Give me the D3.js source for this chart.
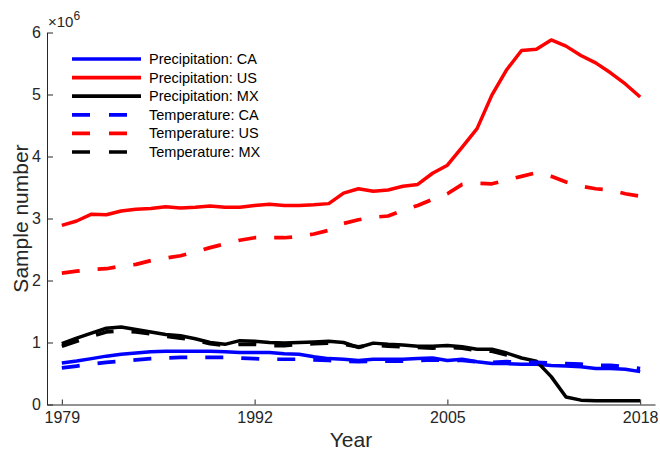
<!DOCTYPE html>
<html>
<head>
<meta charset="utf-8">
<script src="https://cdn.jsdelivr.net/npm/d3@7/dist/d3.min.js"></script>
<style>
  html, body { margin: 0; padding: 0; background: #fff; }
  svg { display: block; font-family: "Liberation Sans", Arial, Helvetica, sans-serif; }
</style>
</head>
<body>
<svg id="chart" width="660" height="450"></svg>
<script>
// ---- data (values in millions) ----
const years = d3.range(1979, 2019);
const precipCA = [0.67,0.70,0.74,0.78,0.81,0.83,0.85,0.86,0.86,0.86,0.86,0.85,0.84,0.84,0.84,0.82,0.81,0.77,0.74,0.73,0.71,0.73,0.73,0.73,0.74,0.75,0.71,0.73,0.69,0.66,0.66,0.65,0.65,0.63,0.62,0.61,0.58,0.58,0.57,0.53];
const precipUS = [2.89,2.96,3.07,3.06,3.12,3.15,3.16,3.19,3.17,3.18,3.20,3.18,3.18,3.21,3.23,3.21,3.21,3.22,3.24,3.41,3.48,3.44,3.46,3.52,3.55,3.73,3.86,4.15,4.45,4.99,5.40,5.71,5.73,5.88,5.78,5.63,5.51,5.35,5.17,4.96];
const precipMX = [0.98,1.07,1.15,1.23,1.25,1.21,1.17,1.13,1.11,1.06,1.00,0.97,1.03,1.02,1.00,0.99,1.00,1.01,1.02,1.00,0.92,0.99,0.97,0.96,0.94,0.94,0.95,0.93,0.89,0.89,0.83,0.75,0.70,0.45,0.12,0.07,0.06,0.06,0.06,0.06];
const tempCA = [0.59,0.62,0.65,0.68,0.70,0.72,0.74,0.75,0.76,0.76,0.76,0.76,0.75,0.74,0.73,0.73,0.73,0.72,0.71,0.70,0.69,0.70,0.70,0.70,0.71,0.72,0.71,0.71,0.69,0.68,0.69,0.68,0.68,0.67,0.66,0.65,0.63,0.63,0.61,0.58];
const tempUS = [2.12,2.15,2.18,2.19,2.23,2.26,2.32,2.36,2.40,2.46,2.53,2.59,2.65,2.69,2.69,2.69,2.71,2.75,2.81,2.92,2.98,3.02,3.04,3.13,3.21,3.31,3.40,3.55,3.57,3.56,3.62,3.68,3.74,3.68,3.59,3.52,3.48,3.46,3.40,3.36];
const tempMX = [0.94,1.02,1.10,1.17,1.19,1.17,1.14,1.10,1.07,1.04,0.98,0.95,0.97,0.97,0.95,0.95,0.97,0.98,0.99,0.97,0.93,0.96,0.94,0.93,0.92,0.91,0.92,0.91,0.87,0.86,0.80,0.74];

const seriesNames = ["Precipitation: CA","Precipitation: US","Precipitation: MX","Temperature: CA","Temperature: US","Temperature: MX"];
const seriesValues = [precipCA, precipUS, precipMX, tempCA, tempUS, tempMX];
const seriesColors = ["#0000ff","#ff0000","#000000","#0000ff","#ff0000","#000000"];
const seriesDashed = [false,false,false,true,true,true];

const xTicks = [1979, 1992, 2005, 2018];
const yTicks = [0,1,2,3,4,5,6];

// ---- chart ----
const svg = d3.select("#chart");
const x = d3.scaleLinear().domain([1978, 2019]).range([47, 655]);
const y = d3.scaleLinear().domain([0, 6]).range([404.5, 32.5]);

const axisColor = "#262626";

// lines
const line = d3.line().x((d) => x(d.year)).y((d) => y(d.v));
seriesValues.forEach((vals, i) => {
  const pts = vals.map((v, j) => ({ year: years[j], v }));
  svg.append("path")
    .datum(pts)
    .attr("d", line)
    .attr("fill", "none")
    .attr("stroke", seriesColors[i])
    .attr("stroke-width", seriesDashed[i] ? 3.7 : 3.5)
    .attr("stroke-linejoin", "round")
    .attr("stroke-dasharray", seriesDashed[i] ? "18,18" : null);
});

// axes
const yAxis = d3.axisLeft(y).tickValues(yTicks).tickFormat(d3.format("d"))
  .tickSizeInner(-6).tickSizeOuter(0).tickPadding(6);
const gy = svg.append("g").attr("transform", `translate(${x(1978)},0)`).call(yAxis);

const xAxis = d3.axisBottom(x).tickValues(xTicks).tickFormat(d3.format("d"))
  .tickSizeInner(-5).tickSizeOuter(0).tickPadding(7);
const gx = svg.append("g").attr("transform", `translate(0,${y(0)})`).call(xAxis);

[gx, gy].forEach(g => {
  g.select(".domain").attr("stroke", axisColor).attr("stroke-width", 1);
  g.selectAll(".tick line").attr("stroke", axisColor).attr("stroke-width", 1);
  g.selectAll(".tick text").attr("fill", axisColor).style("font-size", "16px")
    .style("font-family", "'Liberation Sans', Arial, sans-serif");
});

// exponent label
const expT = svg.append("text").attr("x", 48).attr("y", 27)
  .attr("fill", axisColor).style("font-size", "15px");
expT.append("tspan").text("\u00d710");
expT.append("tspan").attr("dy", -7).style("font-size", "12px").text("6");

// axis titles
svg.append("text").attr("x", (x(1978) + x(2019)) / 2).attr("y", 447)
  .attr("text-anchor", "middle").attr("fill", axisColor)
  .style("font-size", "21px").text("Year");
svg.append("text")
  .attr("transform", `translate(28,${(y(0) + y(6)) / 2}) rotate(-90)`)
  .attr("text-anchor", "middle").attr("fill", axisColor)
  .style("font-size", "21px").text("Sample number");

// legend
const leg = svg.append("g");
seriesNames.forEach((name, i) => {
  const yy = 59 + i * 18.6;
  leg.append("line")
    .attr("x1", 72).attr("x2", 141).attr("y1", yy).attr("y2", yy)
    .attr("stroke", seriesColors[i]).attr("stroke-width", 3.7)
    .attr("stroke-dasharray", seriesDashed[i] ? "18,19" : null);
  leg.append("text").attr("x", 149).attr("y", yy).attr("dy", "0.35em")
    .attr("fill", "#000").style("font-size", "14.5px").text(name);
});
</script>
</body>
</html>
